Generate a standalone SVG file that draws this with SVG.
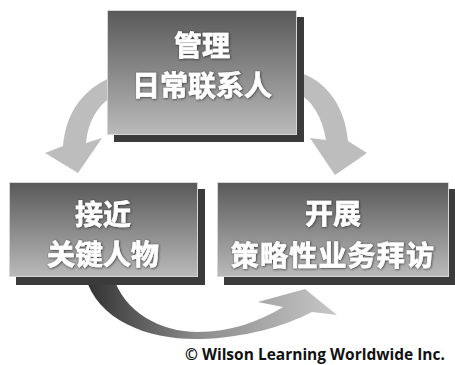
<svg xmlns="http://www.w3.org/2000/svg" width="455" height="365" viewBox="0 0 455 365">
  <defs>
    <linearGradient id="boxFill" x1="0" y1="0" x2="0" y2="1">
      <stop offset="0" stop-color="#595959"/>
      <stop offset="1" stop-color="#bababa"/>
    </linearGradient>
    <linearGradient id="cycleFill" gradientUnits="userSpaceOnUse" x1="85" y1="0" x2="330" y2="0">
      <stop offset="0" stop-color="#303030"/>
      <stop offset="0.45" stop-color="#8a8a8a"/>
      <stop offset="1" stop-color="#c4c4c4"/>
    </linearGradient>
    <filter id="glow" x="-10%" y="-20%" width="120%" height="140%">
      <feDropShadow dx="0.6" dy="0.6" stdDeviation="0.9" flood-color="#1a1a1a" flood-opacity="0.85"/>
    </filter>
    <style>
      .shadow { fill: #3b3b3b; }
      .box { fill: url(#boxFill); stroke: #d6d6d6; stroke-width: 1; }
      .label { font-family: "Noto Sans CJK SC", "Noto Sans CJK TC", sans-serif; font-weight: 700; font-size: 28px; fill: #ffffff; stroke: #ffffff; stroke-width: 0.6; text-anchor: middle; filter: url(#glow); }
      .arrow { fill: #bdbdbd; }
      .credit { font-family: "Open Sans", "Liberation Sans", sans-serif; font-weight: 700; font-size: 15.5px; fill: #111111; }
    </style>
  </defs>

  <!-- curved connectors, drawn beneath the boxes -->
  <g id="connectors">
    <!-- top box to left box -->
    <path class="arrow" d="M110,78 C86,88 66,110 63,146 L45,153 L78,173 L102,138 L86,143 C88,121 98,106 110,98 Z"/>
    <!-- top box to right box -->
    <path class="arrow" d="M298,72 C325,80 345,105 348,141 L367,153 L335,175 L310,138 L326,140 C322,116 312,101 298,93 Z"/>
    <!-- left box to right box, sweeping underneath -->
    <path fill="url(#cycleFill)" d="M85,276 C98,322 150,340 200,339 C245,338 285,326 312,312 L337,315 L305,289 L258,302 L283,307 C258,322 230,332 198,332 C160,332 124,312 113,276 Z"/>
  </g>

  <g id="node-manage">
    <rect class="shadow" x="114" y="17" width="190" height="125"/>
    <rect class="box" x="107.5" y="10.5" width="189" height="124"/>
    <text class="label" x="202" y="56">管理</text>
    <text class="label" x="202" y="96">日常联系人</text>
  </g>

  <g id="node-approach">
    <rect class="shadow" x="16" y="189" width="189" height="96"/>
    <rect class="box" x="9.5" y="182.5" width="188" height="94"/>
    <text class="label" x="103" y="225">接近</text>
    <text class="label" x="103" y="265">关键人物</text>
  </g>

  <g id="node-visit">
    <rect class="shadow" x="224" y="189" width="231" height="96"/>
    <rect class="box" x="217.5" y="182.5" width="231" height="94"/>
    <text class="label" x="333" y="224">开展</text>
    <text class="label" x="333" y="266" style="letter-spacing:1.2px">策略性业务拜访</text>
  </g>

  <text class="credit" x="185" y="360">© Wilson Learning Worldwide Inc.</text>
</svg>
